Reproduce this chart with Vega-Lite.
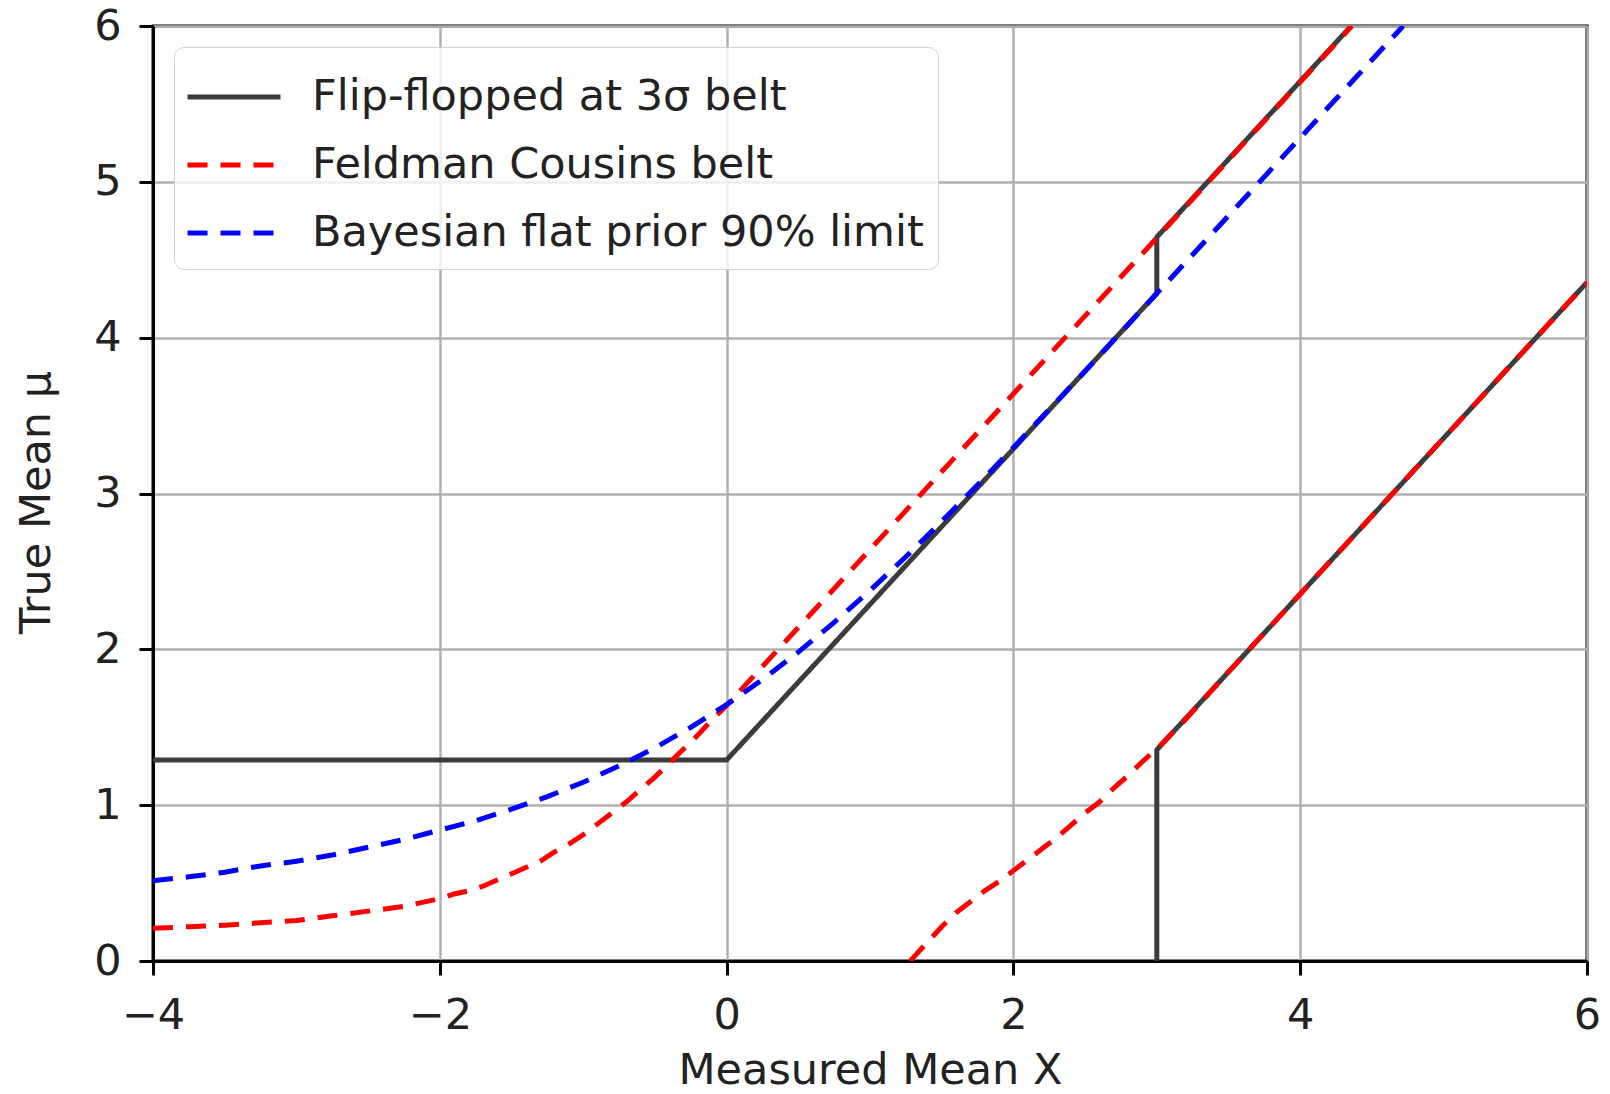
{
  "$schema": "https://vega.github.io/schema/vega-lite/v6.json",
  "width": 1434,
  "height": 935,
  "autosize": {"type": "none"},
  "padding": {"left": 153, "top": 26, "right": 23, "bottom": 133},
  "background": "white",
  "config": {
    "font": "DejaVu Sans",
    "view": {"stroke": "#000000", "strokeWidth": 3},
    "axis": {
      "labelFont": "DejaVu Sans",
      "labelFontSize": 43,
      "labelColor": "#222222",
      "titleFont": "DejaVu Sans",
      "titleFontSize": 43,
      "titleFontWeight": "normal",
      "titleColor": "#222222",
      "tickSize": 14,
      "tickWidth": 3,
      "tickColor": "#000000",
      "domainColor": "#000000",
      "domainWidth": 3,
      "gridColor": "#b0b0b0",
      "gridWidth": 2.5,
      "labelPadding": 18
    },
    "legend": {
      "labelFont": "DejaVu Sans",
      "labelFontSize": 43,
      "labelColor": "#222222",
      "labelLimit": 1000
    }
  },
  "data": {
    "values": [
      {"s": "Flip-flopped at 3σ belt", "p": "b1", "o": 0, "x": -4, "y": 1.29},
      {"s": "Flip-flopped at 3σ belt", "p": "b1", "o": 1, "x": 0, "y": 1.29},
      {"s": "Flip-flopped at 3σ belt", "p": "b1", "o": 2, "x": 3, "y": 4.285},
      {"s": "Flip-flopped at 3σ belt", "p": "b1", "o": 3, "x": 3, "y": 4.645},
      {"s": "Flip-flopped at 3σ belt", "p": "b1", "o": 4, "x": 4.355, "y": 6},
      {"s": "Flip-flopped at 3σ belt", "p": "b2", "o": 0, "x": 3, "y": 0},
      {"s": "Flip-flopped at 3σ belt", "p": "b2", "o": 1, "x": 3, "y": 1.355},
      {"s": "Flip-flopped at 3σ belt", "p": "b2", "o": 2, "x": 6, "y": 4.355},

      {"s": "Feldman Cousins belt", "p": "r1", "o": 0, "x": -4, "y": 0.21},
      {"s": "Feldman Cousins belt", "p": "r1", "o": 1, "x": -3.75, "y": 0.22},
      {"s": "Feldman Cousins belt", "p": "r1", "o": 2, "x": -3.5, "y": 0.23},
      {"s": "Feldman Cousins belt", "p": "r1", "o": 3, "x": -3.25, "y": 0.245},
      {"s": "Feldman Cousins belt", "p": "r1", "o": 4, "x": -3, "y": 0.26},
      {"s": "Feldman Cousins belt", "p": "r1", "o": 5, "x": -2.75, "y": 0.29},
      {"s": "Feldman Cousins belt", "p": "r1", "o": 6, "x": -2.5, "y": 0.32},
      {"s": "Feldman Cousins belt", "p": "r1", "o": 7, "x": -2.25, "y": 0.35},
      {"s": "Feldman Cousins belt", "p": "r1", "o": 8, "x": -2, "y": 0.40},
      {"s": "Feldman Cousins belt", "p": "r1", "o": 9, "x": -1.9, "y": 0.43},
      {"s": "Feldman Cousins belt", "p": "r1", "o": 10, "x": -1.8, "y": 0.45},
      {"s": "Feldman Cousins belt", "p": "r1", "o": 11, "x": -1.7, "y": 0.48},
      {"s": "Feldman Cousins belt", "p": "r1", "o": 12, "x": -1.6, "y": 0.52},
      {"s": "Feldman Cousins belt", "p": "r1", "o": 13, "x": -1.5, "y": 0.56},
      {"s": "Feldman Cousins belt", "p": "r1", "o": 14, "x": -1.4, "y": 0.60},
      {"s": "Feldman Cousins belt", "p": "r1", "o": 15, "x": -1.3, "y": 0.64},
      {"s": "Feldman Cousins belt", "p": "r1", "o": 16, "x": -1.2, "y": 0.70},
      {"s": "Feldman Cousins belt", "p": "r1", "o": 17, "x": -1.1, "y": 0.75},
      {"s": "Feldman Cousins belt", "p": "r1", "o": 18, "x": -1, "y": 0.81},
      {"s": "Feldman Cousins belt", "p": "r1", "o": 19, "x": -0.9, "y": 0.88},
      {"s": "Feldman Cousins belt", "p": "r1", "o": 20, "x": -0.8, "y": 0.95},
      {"s": "Feldman Cousins belt", "p": "r1", "o": 21, "x": -0.7, "y": 1.02},
      {"s": "Feldman Cousins belt", "p": "r1", "o": 22, "x": -0.6, "y": 1.10},
      {"s": "Feldman Cousins belt", "p": "r1", "o": 23, "x": -0.5, "y": 1.18},
      {"s": "Feldman Cousins belt", "p": "r1", "o": 24, "x": -0.4, "y": 1.27},
      {"s": "Feldman Cousins belt", "p": "r1", "o": 25, "x": -0.3, "y": 1.36},
      {"s": "Feldman Cousins belt", "p": "r1", "o": 26, "x": -0.2, "y": 1.45},
      {"s": "Feldman Cousins belt", "p": "r1", "o": 27, "x": -0.1, "y": 1.55},
      {"s": "Feldman Cousins belt", "p": "r1", "o": 28, "x": 0, "y": 1.64},
      {"s": "Feldman Cousins belt", "p": "r1", "o": 29, "x": 0.5, "y": 2.14},
      {"s": "Feldman Cousins belt", "p": "r1", "o": 30, "x": 1, "y": 2.64},
      {"s": "Feldman Cousins belt", "p": "r1", "o": 31, "x": 2, "y": 3.64},
      {"s": "Feldman Cousins belt", "p": "r1", "o": 32, "x": 3, "y": 4.64},
      {"s": "Feldman Cousins belt", "p": "r1", "o": 33, "x": 4.36, "y": 6},
      {"s": "Feldman Cousins belt", "p": "r2", "o": 0, "x": 1.28, "y": 0},
      {"s": "Feldman Cousins belt", "p": "r2", "o": 1, "x": 1.3, "y": 0.02},
      {"s": "Feldman Cousins belt", "p": "r2", "o": 2, "x": 1.4, "y": 0.12},
      {"s": "Feldman Cousins belt", "p": "r2", "o": 3, "x": 1.5, "y": 0.22},
      {"s": "Feldman Cousins belt", "p": "r2", "o": 4, "x": 1.6, "y": 0.31},
      {"s": "Feldman Cousins belt", "p": "r2", "o": 5, "x": 1.7, "y": 0.38},
      {"s": "Feldman Cousins belt", "p": "r2", "o": 6, "x": 1.8, "y": 0.45},
      {"s": "Feldman Cousins belt", "p": "r2", "o": 7, "x": 1.9, "y": 0.51},
      {"s": "Feldman Cousins belt", "p": "r2", "o": 8, "x": 2, "y": 0.58},
      {"s": "Feldman Cousins belt", "p": "r2", "o": 9, "x": 2.1, "y": 0.65},
      {"s": "Feldman Cousins belt", "p": "r2", "o": 10, "x": 2.2, "y": 0.72},
      {"s": "Feldman Cousins belt", "p": "r2", "o": 11, "x": 2.3, "y": 0.79},
      {"s": "Feldman Cousins belt", "p": "r2", "o": 12, "x": 2.4, "y": 0.87},
      {"s": "Feldman Cousins belt", "p": "r2", "o": 13, "x": 2.5, "y": 0.95},
      {"s": "Feldman Cousins belt", "p": "r2", "o": 14, "x": 2.6, "y": 1.02},
      {"s": "Feldman Cousins belt", "p": "r2", "o": 15, "x": 2.7, "y": 1.11},
      {"s": "Feldman Cousins belt", "p": "r2", "o": 16, "x": 2.8, "y": 1.19},
      {"s": "Feldman Cousins belt", "p": "r2", "o": 17, "x": 2.9, "y": 1.28},
      {"s": "Feldman Cousins belt", "p": "r2", "o": 18, "x": 3, "y": 1.36},
      {"s": "Feldman Cousins belt", "p": "r2", "o": 19, "x": 3.2, "y": 1.55},
      {"s": "Feldman Cousins belt", "p": "r2", "o": 20, "x": 3.5, "y": 1.855},
      {"s": "Feldman Cousins belt", "p": "r2", "o": 21, "x": 4, "y": 2.355},
      {"s": "Feldman Cousins belt", "p": "r2", "o": 22, "x": 5, "y": 3.355},
      {"s": "Feldman Cousins belt", "p": "r2", "o": 23, "x": 6, "y": 4.355},

      {"s": "Bayesian flat prior 90% limit", "p": "u1", "o": 0, "x": -4, "y": 0.515},
      {"s": "Bayesian flat prior 90% limit", "p": "u1", "o": 1, "x": -3.75, "y": 0.54},
      {"s": "Bayesian flat prior 90% limit", "p": "u1", "o": 2, "x": -3.5, "y": 0.57},
      {"s": "Bayesian flat prior 90% limit", "p": "u1", "o": 3, "x": -3.25, "y": 0.61},
      {"s": "Bayesian flat prior 90% limit", "p": "u1", "o": 4, "x": -3, "y": 0.64},
      {"s": "Bayesian flat prior 90% limit", "p": "u1", "o": 5, "x": -2.75, "y": 0.68},
      {"s": "Bayesian flat prior 90% limit", "p": "u1", "o": 6, "x": -2.5, "y": 0.73},
      {"s": "Bayesian flat prior 90% limit", "p": "u1", "o": 7, "x": -2.25, "y": 0.78},
      {"s": "Bayesian flat prior 90% limit", "p": "u1", "o": 8, "x": -2, "y": 0.84},
      {"s": "Bayesian flat prior 90% limit", "p": "u1", "o": 9, "x": -1.75, "y": 0.90},
      {"s": "Bayesian flat prior 90% limit", "p": "u1", "o": 10, "x": -1.5, "y": 0.974},
      {"s": "Bayesian flat prior 90% limit", "p": "u1", "o": 11, "x": -1.25, "y": 1.055},
      {"s": "Bayesian flat prior 90% limit", "p": "u1", "o": 12, "x": -1, "y": 1.147},
      {"s": "Bayesian flat prior 90% limit", "p": "u1", "o": 13, "x": -0.75, "y": 1.252},
      {"s": "Bayesian flat prior 90% limit", "p": "u1", "o": 14, "x": -0.5, "y": 1.368},
      {"s": "Bayesian flat prior 90% limit", "p": "u1", "o": 15, "x": -0.25, "y": 1.499},
      {"s": "Bayesian flat prior 90% limit", "p": "u1", "o": 16, "x": 0, "y": 1.645},
      {"s": "Bayesian flat prior 90% limit", "p": "u1", "o": 17, "x": 0.25, "y": 1.806},
      {"s": "Bayesian flat prior 90% limit", "p": "u1", "o": 18, "x": 0.5, "y": 1.982},
      {"s": "Bayesian flat prior 90% limit", "p": "u1", "o": 19, "x": 0.75, "y": 2.173},
      {"s": "Bayesian flat prior 90% limit", "p": "u1", "o": 20, "x": 1, "y": 2.378},
      {"s": "Bayesian flat prior 90% limit", "p": "u1", "o": 21, "x": 1.25, "y": 2.594},
      {"s": "Bayesian flat prior 90% limit", "p": "u1", "o": 22, "x": 1.5, "y": 2.821},
      {"s": "Bayesian flat prior 90% limit", "p": "u1", "o": 23, "x": 1.75, "y": 3.055},
      {"s": "Bayesian flat prior 90% limit", "p": "u1", "o": 24, "x": 2, "y": 3.295},
      {"s": "Bayesian flat prior 90% limit", "p": "u1", "o": 25, "x": 2.5, "y": 3.785},
      {"s": "Bayesian flat prior 90% limit", "p": "u1", "o": 26, "x": 3, "y": 4.283},
      {"s": "Bayesian flat prior 90% limit", "p": "u1", "o": 27, "x": 4.718, "y": 6}
    ]
  },
  "encoding": {
    "x": {
      "field": "x", "type": "quantitative",
      "scale": {"domain": [-4, 6], "nice": false, "zero": false},
      "axis": {"values": [-4, -2, 0, 2, 4, 6], "title": "Measured Mean X", "titlePadding": 12, "labelPadding": 19, "labelFlush": false}
    },
    "y": {
      "field": "y", "type": "quantitative",
      "scale": {"domain": [0, 6], "nice": false, "zero": false},
      "axis": {"values": [0, 1, 2, 3, 4, 5, 6], "title": "True Mean μ", "titlePadding": 35, "titleY": 476, "labelPadding": 18, "labelFlush": false}
    },
    "detail": {"field": "p"},
    "order": {"field": "o", "type": "quantitative"},
    "color": {
      "field": "s", "type": "nominal",
      "scale": {
        "domain": ["Flip-flopped at 3σ belt", "Feldman Cousins belt", "Bayesian flat prior 90% limit"],
        "range": ["#3c3c3c", "#ff0000", "#0000ff"]
      },
      "legend": {
        "title": null,
        "orient": "none",
        "legendX": 21,
        "legendY": 21,
        "symbolType": "M-1.388,0H1.388",
        "symbolSize": 4489,
        "symbolStrokeWidth": 5,
        "symbolOffset": 10,
        "labelOffset": 42,
        "padding": 14,
        "rowPadding": 10,
        "fillColor": "rgba(255,255,255,0.8)",
        "strokeColor": "#d0d0d0",
        "cornerRadius": 10
      }
    },
    "strokeDash": {
      "field": "s", "type": "nominal",
      "scale": {
        "domain": ["Flip-flopped at 3σ belt", "Feldman Cousins belt", "Bayesian flat prior 90% limit"],
        "range": [[1, 0], [20, 13], [20, 13]]
      },
      "legend": null
    }
  },
  "layer": [
    {"transform": [{"filter": {"field": "s", "equal": "Flip-flopped at 3σ belt"}}],
     "mark": {"type": "line", "strokeWidth": 5, "clip": true, "strokeJoin": "round"}},
    {"transform": [{"filter": {"field": "s", "equal": "Feldman Cousins belt"}}],
     "mark": {"type": "line", "strokeWidth": 5, "clip": true, "strokeCap": "butt"}},
    {"transform": [{"filter": {"field": "s", "equal": "Bayesian flat prior 90% limit"}}],
     "mark": {"type": "line", "strokeWidth": 5, "clip": true, "strokeCap": "butt"}}
  ]
}
